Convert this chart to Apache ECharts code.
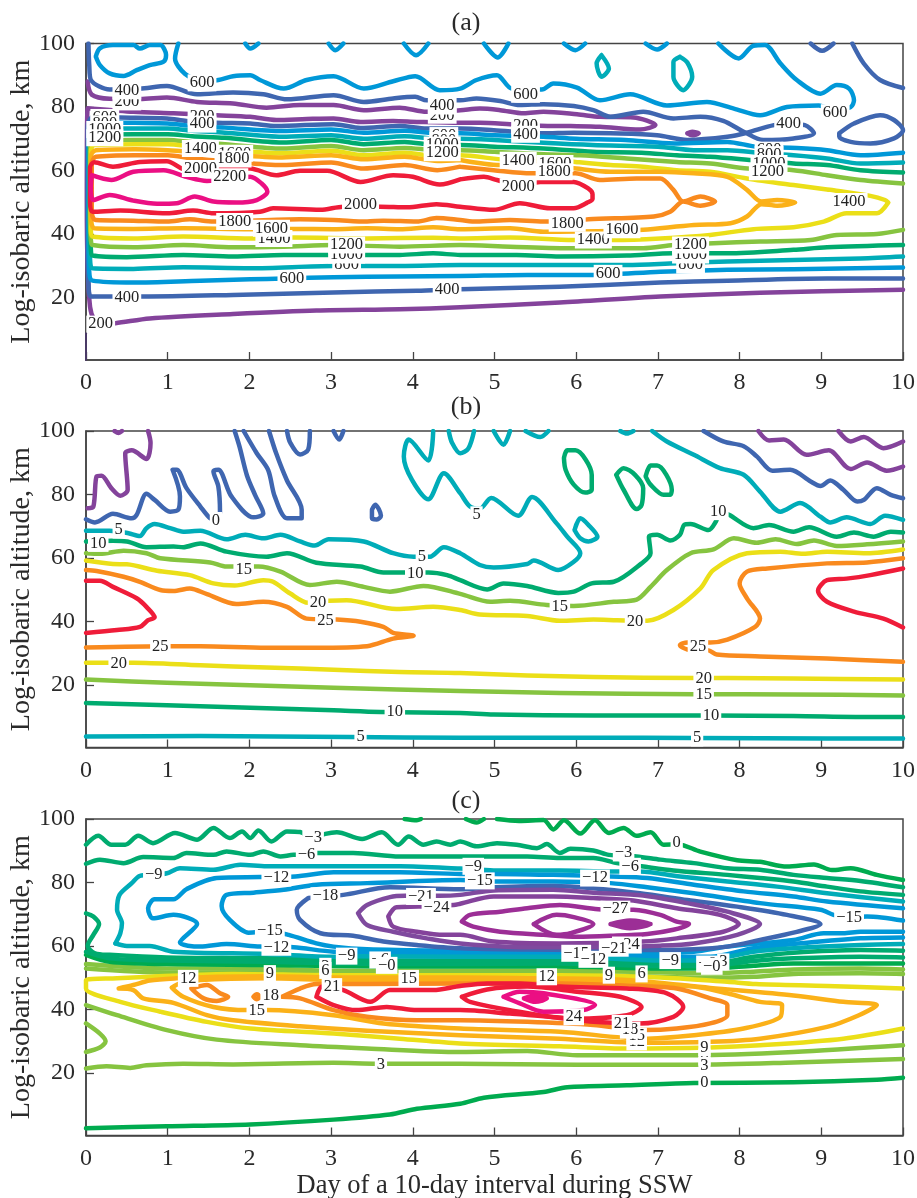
<!DOCTYPE html>
<html><head><meta charset="utf-8">
<style>html,body{margin:0;padding:0;background:#fff}#c{width:917px;height:1198px}</style>
<script src="https://cdn.jsdelivr.net/npm/echarts@6/dist/echarts.min.js"></script>
</head><body><div id="c"></div>
<script>
const dayTicks=[0,1,2,3,4,5,6,7,8,9,10];
const altTicks=[20,40,60,80,100];
const panelTitles=['(a)','(b)','(c)'];
const yName='Log-isobaric altitude, km';
const xName='Day of a 10-day interval during SSW';

// Panel (a)
const a200=[[.02,88],[.07,83.9],[.29,82.6],[.66,82.5],[.99,83],[1.36,81.6],[1.8,81.1],[2.21,79.8],[2.62,80.6],[3.03,80.6],[3.4,79],[3.84,79.8],[4.17,78.5],[4.58,79],[4.82,79.5],[5.07,79],[5.36,78],[5.6,78.5],[6.01,77.7],[6.29,76.9],[6.7,76.7],[6.97,74.3],[6.78,72.9],[6.29,73.8],[5.93,74],[5.56,74.1],[5.19,74.6],[4.82,75],[4.58,75],[4.05,75.3],[3.76,75.6],[3.36,75.3],[3.03,76.4],[2.7,76.2],[2.33,75.9],[2.01,76.9],[1.6,77.4],[1.07,78],[.58,78.5],[.02,79.6],[.01,50],[.02,30],[.05,17],[.1,13],[.18,11.7],[.36,11.9],[.78,13.4],[1.8,14.8],[2.82,15.9],[3.84,16.3],[4.58,16.9],[5.8,18.4],[7.03,20.3],[8.25,21.5],[10,22.4]];
const a200Wall=[[0,8.7],[0,.3]];
const a200Dot=[[7.36,71.7],[7.42,72.2],[7.5,71.7],[7.42,71.1],[7.36,71.7]];
const a400=[[.03,100],[.04,93],[.06,88.5],[.29,85.5],[.66,85.8],[.99,86.6],[1.36,84],[1.8,84.6],[2.17,84],[2.46,82.4],[3.03,83.7],[3.4,81.6],[3.76,82.7],[4.03,83.2],[4.17,82.1],[4.58,82.1],[4.78,82.7],[5.07,81.9],[5.31,80.6],[5.6,80.9],[5.97,80.3],[6.21,79],[6.42,76.9],[6.82,78.5],[7.19,76.4],[7.52,76.9],[7.8,75.6],[8.05,72.2],[8.29,69.6],[8.66,70.1],[8.91,71.7],[8.8,74.3],[8.6,74.6],[8.42,74.3],[8.09,71.9],[7.85,70.6],[7.36,69.6],[6.99,71.1],[6.42,71.7],[5.97,71.9],[5.58,71.7],[4.99,72.7],[4.58,73.2],[4.17,73.2],[3.84,74],[3.36,73.4],[3.03,74.6],[2.33,74],[2.01,74.8],[1.6,75],[1.23,75.6],[.99,76.4],[.42,76.7],[.09,76.9],[.02,74],[.02,40],[.03,25],[.06,20.3],[.7,20.3],[1.8,20.8],[3.03,21.6],[4.05,22.1],[4.58,22.6],[5.8,23.4],[7.03,24.7],[7.85,25.3],[9.07,26],[10,26]];
const a400Top=[[8.87,100],[9.01,97.7],[9.15,100]];
const a400Right=[[9.38,100],[9.52,93.7],[9.72,88.5],[10,86]];
const a400Loop=[[9.22,71.7],[9.4,74.8],[9.72,77.4],[9.89,75.9],[10,72.7],[9.89,70.1],[9.6,68.5],[9.36,69],[9.22,70.6],[9.22,71.7]];
const a600Top=[[1.13,100],[1.09,95.3],[1.21,90.5],[1.42,88.2],[1.62,88.5],[1.8,89.7],[2.01,90],[2.13,88.5],[2.42,85.8],[2.7,88.5],[3.03,89.7],[3.4,85.8],[3.76,88.1],[4.03,89.7],[4.33,85.3],[4.58,85.8],[4.78,88.5],[5.03,90],[5.21,85.8],[5.58,85.5],[5.72,87.4],[6.01,86.1],[6.29,82.1],[6.66,84],[7.11,80.5],[7.6,81.6],[7.93,79.5],[8.25,77.4],[8.58,80],[8.97,80.5],[9.17,79],[9.36,80],[9.4,82.1],[9.34,85.8],[9.19,86.9],[8.99,84.2],[8.7,88.5],[8.5,93.7],[8.31,99.5],[8.17,99.3],[7.99,95.3],[7.74,100]];
const a600Loop=[[.12,95.9],[.17,98.5],[.33,99.5],[.58,99.5],[.66,98.4],[.78,99.5],[.91,99.5],[.98,96.4],[.95,94.3],[.78,93.2],[.62,91.6],[.46,89.8],[.29,90.6],[.17,93.2],[.12,95.9]];
const a600Dip1=[[1.95,100],[2.01,98.4],[2.11,100]];
const a600Dip2=[[2.97,100],[3.05,97.9],[3.15,100]];
const a600Dip3=[[3.89,100],[4.04,96.3],[4.19,100]];
const a600Dip4=[[4.87,100],[5.04,95.6],[5.17,100]];
const a600Dip5=[[5.85,100],[5.99,97.9],[6.11,100]];
const a600Dip6=[[6.85,100],[6.99,98.1],[7.11,100]];
const a600=[[10,65.6],[9.48,64.8],[9.07,66.4],[8.7,67.1],[8.2,67.5],[7.85,69],[7.2,68.5],[6.6,69.6],[6,70],[5.6,70.6],[5,71.1],[4.58,71.7],[4.3,71.7],[3.9,72.5],[3.4,71.9],[3,72.9],[2.4,72.4],[1.7,73.5],[1.3,74],[1,74.8],[.6,75],[.1,75.2],[.03,73],[.03,45],[.04,28],[.08,25.3],[.58,24.7],[1.4,25.3],[2.01,25.7],[2.42,26],[3.03,26.4],[3.84,26.6],[4.58,26.8],[5.4,27.1],[6.21,27.1],[7.03,28.1],[7.85,28.7],[8.66,28.9],[10,29.4]];
const a800=[[10,62.5],[9.48,62.2],[9.07,63.8],[8.66,64.8],[8.3,65.4],[7.85,66.4],[7.44,66.4],[7,67.5],[6.2,68],[5.6,68.7],[5,69.6],[4.58,70],[4.3,70],[3.9,70.8],[3.4,70],[3,71.1],[2.4,70.6],[1.7,71.9],[1.3,72.5],[1,73.2],[.6,73.2],[.1,73.2],[.04,71],[.04,45],[.05,32],[.08,29.2],[.58,29],[1.19,29.5],[2.01,29.2],[3.03,29.9],[3.84,29.9],[4.58,30.2],[5.27,30.2],[6.62,30.2],[7.23,30.8],[7.85,31.3],[8.66,31.8],[9.48,32.3],[10,32.9]];
const a1000=[[10,59.4],[9.48,60.1],[9.07,61.7],[8.66,62.2],[8.14,63.3],[7.64,64.3],[7.23,64.8],[6.8,65.6],[6.2,65.9],[5.6,66.9],[5,67.5],[4.58,68],[4.3,68],[3.9,69],[3.4,68.3],[3,69.6],[2.4,68.8],[1.7,70.3],[1.3,70.8],[1,71.4],[.6,71.4],[.1,71.3],[.05,69],[.05,45],[.06,35],[.08,33.2],[.5,32.7],[1.19,33.4],[1.8,32.9],[2.42,33.4],[3.03,33.4],[3.84,33.4],[4.25,33.9],[4.58,33.4],[5.27,33.4],[5.8,32.9],[6.62,33.2],[7.19,33.9],[7.85,33.9],[8.66,35],[9.07,35.8],[10,36.5]];
const a1200=[[10,55.9],[9.48,57],[9.07,58.5],[8.66,60.1],[8.1,60.6],[7.64,62.2],[7.23,62.7],[6.62,63.8],[6.05,64.8],[5.6,65.1],[5,65.9],[4.58,66.4],[4.3,66.4],[3.9,67.1],[3.4,66.4],[3,67.7],[2.4,66.9],[1.7,68.3],[1.3,68.9],[1,69.6],[.6,69.6],[.1,69.5],[.05,67.5],[.05,45],[.06,38],[.08,36.5],[.58,35.8],[1.19,36.5],[1.8,35.8],[2.42,36],[3.03,36.5],[3.84,36],[4.58,36.5],[5.19,36],[5.97,35.5],[6.82,35.5],[7.19,36.5],[7.68,37.1],[8.25,37.6],[8.87,38.1],[9.19,39.7],[9.68,40],[10,41.3]];
const a1400=[[9.82,49.9],[9.78,50.7],[9.6,52],[9.15,53.8],[9.07,54],[8.66,55.4],[8.09,57.5],[7.64,59.6],[7.23,60.1],[6.82,61.2],[6.42,61.7],[5.99,62.7],[5.58,63.8],[5.2,63.3],[4.58,64.8],[4.3,64.5],[3.9,65.6],[3.4,64.8],[3,66.2],[2.4,65.4],[1.7,66.7],[1.3,67.5],[1,68.3],[.6,68.3],[.1,68],[.06,66],[.06,45],[.06,41],[.08,39.2],[.58,38.6],[1.19,39.2],[2.01,38.6],[2.54,38.9],[3.44,38.6],[4.25,38.8],[4.58,38.6],[5.19,38.9],[5.97,38.1],[6.46,38.1],[7.03,38.6],[7.64,39.7],[8.17,41.5],[8.66,42.1],[9.03,43.9],[9.31,46.5],[9.68,46.5],[9.82,49.9]];
const a1600=[[4.58,63.3],[4.3,63],[3.9,64.3],[3.4,63.5],[3,64.8],[2.4,64.1],[1.7,65.1],[1.3,65.9],[1,66.4],[.6,66.7],[.12,66.4],[.06,64.5],[.06,46],[.07,43],[.1,41.8],[.58,41.6],[1.19,41.8],[2.01,41.5],[2.54,41.6],[3.03,41.5],[3.44,41.8],[3.84,41.5],[4.25,42.1],[4.58,41.5],[5.19,41.8],[5.6,40.7],[6.55,41],[6.82,41.3],[7.44,42.8],[7.89,43.4],[8.09,45.5],[8.27,49.4],[8.46,48.9],[8.68,49.9],[8.46,50.7],[8.27,50.2],[8.09,53.9],[7.85,58],[7.44,59.1],[7.03,59.6],[6.42,59.6],[6,60.6],[5.5,62.2],[5.07,61.7],[4.58,63.3]];
const a1800=[[4.58,61.2],[4.3,60.1],[3.9,61.7],[3.4,60.6],[3,62.5],[2.4,61.7],[1.7,63],[1.3,63.8],[1,64.8],[.6,64.8],[.12,64.3],[.07,62],[.07,48],[.08,45.5],[.12,44.4],[.58,44.2],[.99,43.9],[1.27,44.6],[1.56,43.9],[2.62,44.6],[3.03,44.4],[3.44,43.9],[3.64,44.2],[4.05,43.9],[4.29,45],[4.58,44.4],[4.78,43.9],[5.19,44.4],[5.6,43.9],[5.9,43.9],[6.15,44.6],[6.95,45.5],[7.15,47],[7.31,50.2],[7.52,48.9],[7.7,50.2],[7.52,51.8],[7.31,50.2],[7.19,53.9],[7.03,57.5],[6.74,57.5],[6.29,57],[5.99,59.1],[5.45,59.1],[4.99,60.1],[4.58,61.2]];
const a2000=[[4.58,57.2],[4.33,55.6],[4,58],[3.76,58.5],[3.36,56.4],[2.95,59.9],[2.62,59.9],[2.33,58.5],[2.01,60.6],[1.6,60.8],[1.23,60.1],[.99,62.9],[.66,62.7],[.33,61.2],[.1,62.6],[.05,61],[.05,50],[.08,47],[.42,47.4],[.99,46.5],[1.31,47.4],[1.56,46.5],[2.13,47],[2.29,48.1],[2.87,47.6],[3.15,48.6],[3.6,48.6],[3.93,48.4],[4.29,49.4],[4.58,48.6],[4.99,47.6],[5.31,49.7],[5.68,48.1],[5.97,48.1],[6.13,49.8],[6.2,51],[6.2,52.5],[6.15,54.3],[5.97,56.4],[5.56,56.4],[5.29,55.4],[5.03,57],[4.87,58],[4.58,57.2]];
const a2200=[[.07,58.5],[.31,57],[.58,59.6],[.95,60.1],[1.23,58],[1.48,56.7],[2.01,58],[2.15,55.9],[2.22,53.3],[2.09,50.7],[1.84,49.9],[1.56,50.2],[1.33,51.8],[1.11,49.7],[.87,49.5],[.58,50.5],[.29,52.3],[.09,50.7],[.06,54.9],[.07,58.5]];
const a800Isle1=[[6.31,96.3],[6.4,92.1],[6.31,89.5],[6.25,93.7],[6.31,96.3]];
const a800Isle2=[[7.27,95.8],[7.36,94],[7.42,89.5],[7.31,85.3],[7.19,89.5],[7.19,94.2],[7.27,95.8]];
const labelsA=[[.5,81.6,'200'],[1.42,76.9,'200'],[4.36,77.4,'200'],[5.38,74,'200'],[.18,11.6,'200'],
[.5,85.1,'400'],[1.42,74.6,'400'],[4.36,80.3,'400'],[5.38,71.4,'400'],[8.6,74.6,'400'],[.5,20,'400'],[4.42,22.6,'400'],
[1.42,87.6,'600'],[.23,76.7,'600'],[5.38,84,'600'],[4.38,71,'600'],[9.17,78.2,'600'],[8.36,66.4,'600'],[2.52,26,'600'],[6.39,27.6,'600'],
[.23,74.7,'800'],[4.38,69.5,'800'],[8.36,65,'800'],[3.19,30.2,'800'],[7.4,30.2,'800'],
[.23,72.9,'1000'],[4.36,68,'1000'],[8.36,62.2,'1000'],[3.19,33.4,'1000'],[7.4,33.4,'1000'],
[.23,70.3,'1200'],[4.36,65.6,'1200'],[8.34,59.6,'1200'],[3.19,36.5,'1200'],[7.4,36.5,'1200'],
[1.4,66.9,'1400'],[5.29,63.2,'1400'],[2.3,38.6,'1400'],[6.21,38.1,'1400'],[9.34,50.2,'1400'],
[1.82,65.4,'1600'],[5.74,62.2,'1600'],[2.27,41.8,'1600'],[6.56,41.3,'1600'],
[1.8,63.6,'1800'],[5.73,59.6,'1800'],[1.82,43.9,'1800'],[5.89,43.4,'1800'],
[1.4,60.6,'2000'],[5.29,54.9,'2000'],[3.36,49.1,'2000'],
[1.76,58,'2200']];

// Panel (b)
const bN5L=[[.02,75.7],[.09,76.2],[.13,85.7],[.19,85.9],[.31,82],[.42,79.6],[.51,81.5],[.48,93],[.56,93.9],[.74,91.2],[.79,96.2],[.76,100]];
const bN5Dot=[[.35,100],[.4,99.4],[.44,100]];
const bN5R1=[[8.23,100],[8.36,97],[8.54,97.3],[8.82,92.5],[9.09,93.9],[9.36,88],[9.56,90.1],[9.8,87.5],[10,88.8]];
const bN5R2=[[9.21,100],[9.36,96.7],[9.52,98.1],[9.76,94.6],[10,96.7]];
const b0A=[[0,72.2],[.11,71.2],[.33,73.9],[.56,72.5],[.62,73.6],[.74,80.2],[.84,78.3],[1.03,74.6],[1.13,75.2],[1.15,79.4],[1.06,87.8],[1.11,87.8],[1.23,82],[1.4,76.2],[1.52,72.5],[1.6,71.9],[1.64,74.6],[1.62,82.5],[1.56,87.3],[1.62,87.8],[1.78,79.4],[2.05,72.8],[2.17,74],[2.07,79.8],[1.97,86],[1.88,95],[1.82,100]];
const b0B=[[1.93,100],[2.09,93],[2.23,87.7],[2.31,79.4],[2.46,72.5],[2.64,72.5],[2.64,75.2],[2.46,84.4],[2.33,92.8],[2.24,100]];
const b0C=[[2.46,100],[2.5,96.3],[2.62,92.6],[2.72,94.2],[2.74,100]];
const b0D=[[3.03,100],[3.1,97.3],[3.15,100]];
const b0Isle=[[3.5,75.2],[3.54,76.8],[3.61,73.3],[3.56,72.1],[3.5,72.6],[3.5,75.2]];
const b0R=[[7.56,100],[7.8,96.7],[8.05,95.2],[8.21,92],[8.4,87.5],[8.62,87.8],[8.87,84.1],[8.99,82.7],[9.11,84.4],[9.27,81.5],[9.44,77.8],[9.52,78.3],[9.68,82],[9.85,79.9],[10,78.8]];
const b5=[[0,68.6],[.29,68.6],[.52,67.8],[.66,66.9],[.74,69.4],[.84,70.7],[1.03,69.4],[1.19,68.3],[1.4,68.6],[1.72,65.9],[1.95,67.3],[2.17,66.2],[2.38,67.3],[2.62,65.2],[2.8,63.9],[2.97,65.9],[3.4,65.2],[3.76,61.5],[4.01,60.4],[4.21,60.4],[4.38,63.4],[4.58,61.5],[4.82,57.8],[4.99,57],[5.4,58.1],[5.48,59.2],[5.78,56.2],[5.97,58.8],[6.05,61.5],[5.89,66.7],[5.76,70.9],[5.46,79.2],[5.29,73.3],[4.96,78.9],[4.82,75.5],[4.7,76.2],[4.58,80.4],[4.38,86.7],[4.19,78.5],[3.99,84.6],[3.89,92],[3.95,97.3],[4.19,90.7],[4.25,100]];
const b5B=[[4.44,100],[4.48,96.3],[4.58,93],[4.68,94.5],[4.75,100]];
const b5C=[[4.99,100],[5.11,95.7],[5.19,100]];
const b5D=[[5.38,100],[5.56,98.1],[5.66,100]];
const b5E=[[6.54,100],[6.62,99.2],[6.7,100]];
const b5F=[[6.93,100],[7.11,96.7],[7.44,92.5],[7.76,88.3],[8.05,86.2],[8.25,80.9],[8.5,74.6],[8.74,77.3],[8.99,73],[9.11,71.2],[9.31,72.8],[9.6,70.7],[9.78,73.3],[10,72]];
const b5Isle=[[5.98,68.8],[6.05,72.5],[6.15,70.4],[6.26,66.7],[6.15,65.2],[6.05,66.2],[5.98,68.8]];
const b10=[[0,65.2],[.33,65.4],[.5,65.2],[.74,63.4],[1.07,63.6],[1.19,63.4],[1.4,64.6],[1.72,62],[2.21,60.4],[2.46,61.5],[2.82,58.5],[3.36,57.3],[3.64,55.4],[3.91,55.4],[4.19,55.4],[4.42,54.6],[4.58,53],[4.91,50.1],[5.11,52],[5.4,51.2],[5.78,49],[5.97,49.4],[6.19,52],[6.46,52.5],[6.8,58.3],[6.91,61.5],[6.89,66.7],[6.99,67.3],[7.15,65.5],[7.27,67.3],[7.32,70.4],[7.4,70.7],[7.62,68.8],[7.71,71.5],[7.76,74.6],[7.87,73.6],[8.17,69.4],[8.36,70.4],[8.66,68.3],[8.85,69.7],[9.19,66.7],[9.4,68],[9.64,66.7],[9.85,68.3],[10,68]];
const b10Isle1=[[5.85,91.5],[5.89,93.9],[5.99,93.9],[6.19,86.2],[6.19,81.5],[6.11,80.6],[5.97,83.1],[5.87,87.8],[5.85,91.5]];
const b10Isle2=[[6.49,86.2],[6.58,88.3],[6.72,86.2],[6.82,82],[6.8,76.7],[6.74,75.4],[6.58,81.5],[6.49,86.2]];
const b10Isle3=[[6.85,85.7],[6.91,89.1],[6.99,89.1],[7.17,81.5],[7.15,79.9],[7.07,79.9],[6.91,83.1],[6.85,85.7]];
const b15=[[0,61.5],[.17,61.3],[.46,62.3],[.74,61.5],[.91,59.9],[1.52,58.6],[1.72,57.3],[2.11,57.3],[2.38,55.7],[2.74,51.5],[3.07,52.5],[3.4,50.9],[3.72,49.4],[4.13,51.2],[4.58,48.7],[4.95,46.2],[5.19,46.5],[5.64,45.2],[5.97,44.9],[6.46,46.2],[6.74,46.9],[6.91,50.9],[7.11,56.2],[7.4,61.5],[7.68,62.7],[7.93,66.2],[8.21,64.8],[8.44,65.9],[8.7,64.4],[8.91,65.5],[9.19,63.8],[9.56,64.3],[10,65.2]];
const b20=[[0,59.2],[.33,58.1],[.5,58],[.87,56],[1.27,54.6],[1.56,52],[1.82,51.3],[2.17,53],[2.29,52.5],[2.5,48.8],[2.72,45.9],[2.97,46.5],[3.19,46.7],[3.8,43.9],[4.25,44.6],[4.58,43.6],[4.82,42.2],[5.4,41.7],[5.8,40.2],[6.21,40.6],[6.5,40.4],[6.87,40.2],[7.19,43.6],[7.52,50.4],[7.68,56.2],[8.09,61.5],[8.5,62],[8.78,61.3],[9.07,62],[9.56,61.5],[10,62.7]];
const b25=[[0,56.2],[.13,55.9],[.46,54.1],[.66,52.5],[.91,49.9],[1.07,49.6],[1.27,50.4],[1.48,48.6],[1.84,45.5],[2.17,46.2],[2.46,44.6],[2.7,40.9],[3.07,40.6],[3.36,39.9],[3.64,38.3],[3.76,36.4],[4.01,35.5],[3.76,34.6],[3.44,32.2],[2.82,31.7],[2.21,31.7],[1.4,32.2],[1.03,32.2],[0,31.8]];
const b25R=[[10,59.9],[9.56,58.6],[9.07,58.3],[8.34,56.7],[8.09,55.7],[8,52],[8.09,47.3],[8.25,40.9],[8.19,38.3],[7.85,34.3],[7.64,33.4],[7.36,33.4],[7.27,32.5],[7.36,31.2],[7.62,30.9],[7.72,29.6],[8.25,29],[9.07,28.3],[10,27.3]];
const b30=[[0,36.4],[.38,37.3],[.66,38.3],[.76,40.4],[.84,41.3],[.74,44.6],[.62,47.3],[.33,50.9],[.17,52.8],[0,52.8]];
const b30R=[[10,56.7],[9.6,54.6],[9.31,53.5],[9.07,53],[8.96,49.7],[9.07,46.2],[9.4,43.1],[9.76,40.9],[10,38.1]];
const b20Low=[[0,27],[.58,27],[1.4,26.2],[2.21,25.5],[3.03,24.8],[3.84,24.1],[4.58,23.8],[5.4,23],[6.21,22.5],[7.44,22.2],[7.85,22.2],[8.66,22],[10,21.7]];
const b15Low=[[0,21.7],[.99,20.7],[2.01,19.9],[3.03,19.1],[4.58,18.1],[5.8,17.5],[7.44,17.1],[8.66,17],[10,16.7]];
const b10Low=[[0,14.3],[.99,13.6],[2.01,12.8],[3.03,12],[3.6,11.5],[4.58,11.2],[4.99,10.7],[6.21,10.4],[7.64,10.4],[8.66,10.2],[9.68,9.9],[10,9.9]];
const b5Low=[[0,3.8],[1.4,3.9],[3.23,3.6],[4.58,3.4],[6.21,3.4],[7.44,3.3],[9.07,3.1],[10,3.1]];
const labelsB=[[1.59,71.8,'0'],[.4,68.8,'5'],[.15,64.6,'10'],[1.93,56.4,'15'],[2.84,45.9,'20'],[2.93,40.4,'25'],[.91,32.2,'25'],[.4,26.7,'20'],[4.11,60.4,'5'],[4.03,55.2,'10'],[3.78,11.5,'10'],[3.36,3.8,'5'],[4.78,73.6,'5'],[7.74,74.6,'10'],[5.8,44.6,'15'],[6.72,39.9,'20'],[7.49,32,'25'],[7.56,22,'20'],[7.56,17,'15'],[7.65,10.4,'10'],[7.48,3.3,'5']];

// Panel (c)
const c0Top=[[3.9,100],[4.05,99.6],[4.1,100]];
const c0Top2=[[4.65,100],[4.78,98.9],[4.87,100]];
const c0=[[5.03,100],[5.3,99.4],[5.6,99.7],[5.72,96.7],[5.85,99.6],[6.05,95.4],[6.23,99.6],[6.4,95.6],[6.58,97.2],[6.74,94.7],[6.91,95.8],[7.07,91.9],[7.25,92],[7.52,89.7],[7.97,87],[8.25,86.5],[8.58,85],[8.91,85.7],[9.13,83.9],[9.36,84.5],[9.68,82.4],[10,80.8]];
const cN3=[[0,91.9],[.15,94.7],[.31,91.9],[.48,91.9],[.64,94.7],[.82,92.4],[1.09,95.6],[1.36,93.5],[1.56,97.2],[1.76,94],[1.91,96.1],[2.01,94],[2.11,96.4],[2.27,92.9],[2.46,96.1],[2.62,95.9],[2.78,94],[2.93,95.3],[3.07,95.8],[3.38,93.7],[3.62,95.8],[3.82,91.9],[3.95,94.5],[4.13,91.9],[4.29,92.9],[4.46,91.9],[4.58,92.9],[4.78,91.4],[5.03,92.4],[5.27,91.9],[5.52,90.8],[5.64,92.1],[5.8,89.3],[5.93,90.6],[6.21,90.1],[6.4,88.7],[6.74,88.2],[7.03,87.2],[7.44,86.1],[7.85,84.5],[8.25,84],[8.66,82.4],[9.07,81.4],[9.48,80.5],[10,78.5]];
const cN6=[[0,85.9],[.17,87.2],[.46,86.1],[.7,88],[1.07,87.7],[1.23,89.3],[1.56,88.7],[1.72,89.8],[2.01,88.7],[2.17,89.8],[2.38,88.2],[2.54,88.7],[2.7,88.7],[2.82,89.3],[3.27,89.3],[3.84,88.2],[4.58,88.2],[4.99,88.2],[5.4,88.2],[5.8,87.7],[6.21,87.7],[6.5,86.1],[6.8,85.1],[7.19,83.8],[7.85,82.4],[8.25,81.4],[8.66,80.3],[9.07,78.7],[9.48,77.2],[10,76.1]];
const cN6Low=[[0,70.3],[.09,69.3],[.16,66.9],[.09,63.5],[.02,60],[.11,57.7],[.29,57.2],[.99,56.4],[2.21,56.1],[3.03,55.6],[4.58,55.4],[5.8,55.6],[7.03,54.5],[7.64,54.5],[8.17,56.6],[8.66,57.9],[9.48,58.7],[10,58.5]];
const cN3Low=[[0,58.2],[.29,56.1],[.99,55.4],[2.21,55],[3.03,54.5],[4.58,54.3],[5.8,54.5],[7.03,53.7],[7.64,53.7],[8.17,55.3],[8.66,56.1],[9.48,56.6],[10,56.4]];
const c0Band=[[0,57.2],[.29,55],[.99,54.3],[2.21,54],[3.03,53.7],[4.58,53.5],[5.8,53.5],[7.03,52.9],[7.64,52.9],[8.17,53.8],[8.66,54.5],[9.48,54.5],[10,54.5]];
const c3Band=[[0,54.3],[.99,52.9],[2.21,52.9],[3.03,52.2],[4.58,52.2],[5.8,52.2],[7.03,51.7],[7.64,51.4],[8.17,51.9],[8.66,52.6],[9.48,52.9],[10,52.6]];
const c6Band=[[0,52.9],[.99,51.6],[2.21,51.7],[3.03,50.9],[4.58,50.9],[5.8,50.9],[7.03,50.3],[7.64,50],[8.17,50.3],[8.66,51.2],[9.48,51.4],[10,51.2]];
const cN9=[[.36,60.8],[.42,64],[.44,67.2],[.38,71.4],[.41,76.1],[.56,79.8],[.66,82.1],[.83,82.4],[.99,82.9],[1.15,84.5],[1.56,84],[1.89,85.6],[2.21,85.1],[2.54,85.1],[3.03,85.1],[3.84,85.1],[4.58,84.4],[4.99,83.8],[5.8,83.8],[6.42,83.5],[6.78,83.5],[7.27,81.9],[7.85,80.3],[8.46,78.7],[9.07,76.6],[10,74]];
const cN9Low=[[.36,60.8],[.5,60],[.78,60],[1.07,58.2],[2.21,57.5],[3.03,56.6],[3.19,56.8],[4.58,56.6],[5.8,56.6],[7.15,55.4],[7.64,55.6],[8.17,58.2],[8.66,59.3],[9.48,60.3],[10,60.6]];
const cN12=[[10,71.9],[9.07,74],[8.66,75.6],[8.05,77.2],[7.44,79.3],[6.87,81.4],[6.42,81.9],[5.72,82.4],[4.99,82.7],[4.58,82.7],[3.84,83.2],[3.03,83.2],[2.56,81.9],[2.13,81.7],[1.6,81.4],[1.23,77.9],[1.07,74.7],[.84,74.7],[.76,71.9],[.82,68.7],[1.07,69.8],[1.36,66.9],[1.15,61.1],[1.4,59.8],[1.72,60.6],[2.13,59.8],[2.54,59.6],[3.03,58.2],[4.58,57.5],[5.8,57.2],[6.62,56.6],[7.64,56.6],[8.17,59.3],[8.66,60.6],[9.48,62.4],[10,62.7]];
const cN15=[[10,68],[9.56,69.3],[9.33,69],[9.15,69.8],[8.99,71.4],[8.25,73.5],[7.44,76.6],[6.87,78.5],[6.42,79.8],[5.72,80.3],[4.99,80.3],[4.58,80.8],[3.44,79.8],[2.82,79.3],[2.42,77.7],[2.05,76.8],[1.72,76.1],[1.66,72.6],[1.76,68.2],[1.99,64.2],[2.25,64.6],[2.48,63.5],[2.82,60.8],[3.03,59.8],[3.44,59],[4.58,58.5],[5.8,58.2],[6.62,57.7],[7.44,58.2],[7.85,59.8],[8.66,61.9],[9.03,64],[9.27,64],[9.48,64.5],[10,64.5]];
const cN18=[[2.72,75.1],[3.15,76.1],[3.72,78.5],[4.58,77.9],[4.99,78.5],[5.72,78.9],[6.21,78.2],[6.78,76.6],[7.36,74.5],[7.97,72.4],[8.58,69.8],[8.99,66.9],[8.66,64.2],[8.25,61.9],[7.85,59.8],[7.44,59],[6.62,58.7],[5.4,58.9],[4.58,59.3],[4.05,60.3],[3.64,61.4],[3.27,63.2],[2.87,64],[2.62,68.2],[2.58,71.4],[2.72,75.1]];
const cN21=[[3.33,70.3],[3.44,72.9],[3.72,75.4],[3.91,75.8],[4.33,75.8],[4.58,76.1],[4.99,77.5],[5.72,77.7],[6.21,76.8],[6.82,75.9],[7.36,73.5],[7.85,70.8],[8.25,66.9],[7.97,63.5],[7.44,60.8],[7.03,60.1],[6.21,59.6],[5.4,59.6],[4.58,60.8],[4.17,62.4],[3.76,64.5],[3.44,66.6],[3.33,70.3]];
const cN24=[[3.7,69.3],[3.8,72.2],[4.07,72.4],[4.5,72.9],[4.58,73.3],[4.99,75.6],[5.72,75.6],[6.21,75.1],[6.7,74.3],[7.23,71.9],[7.76,69.8],[7.99,66.9],[7.8,64.5],[7.23,62.4],[6.82,61.4],[5.8,60.8],[4.99,61.4],[4.58,63.5],[4.38,63.5],[4.05,64.5],[3.76,66.1],[3.7,69.3]];
const cN27=[[4.6,67.7],[4.7,69.8],[5.07,70.8],[5.4,71.9],[5.8,72.9],[6.27,71.6],[6.7,71.4],[7.03,69.8],[7.23,67.7],[7.38,66.9],[7.19,65.1],[6.87,63.8],[6.42,63.2],[6.01,62.9],[5.6,63.5],[5.07,64.5],[4.74,66.1],[4.6,67.7]];
const cN30A=[[5.48,66.9],[5.76,69.8],[5.97,69.1],[6.21,66.9],[5.93,64],[5.76,63.5],[5.48,66.9]];
const cN30B=[[6.42,66.9],[6.66,68],[6.91,66.9],[6.66,65.6],[6.42,66.9],[6.91,66.9]];
const c9=[[10,46.6],[9.07,47.4],[8.2,48],[7.85,48.7],[7.03,50.1],[5.8,50.8],[4.58,50.8],[3.03,50.8],[1.8,51.2],[.78,50.3],[.38,49.8],[0,49.3],[0,46.6],[.42,42.4],[.91,39.3],[1.48,36.1],[2.01,34],[3.03,32.4],[3.84,30.8],[4.58,29.3],[5.8,28.4],[6.62,27.7],[7.64,28],[8.25,28.7],[9.27,30.8],[10,34]];
const c12=[[.4,46.6],[.58,47.7],[.78,49.1],[1.11,49.8],[1.6,50.3],[2.21,50.5],[3.03,50.1],[4.58,50.1],[5.64,49.8],[6.62,49.3],[7.64,46.8],[8.66,44.4],[9.27,42.4],[9.68,41.4],[9.46,38.2],[9.07,34.5],[8.25,30.8],[7.64,29.8],[6.82,29.5],[5.8,30.8],[4.58,31.9],[3.44,33.3],[2.62,34.7],[1.8,36.6],[1.48,38.2],[1.07,42.1],[.7,43.5],[.58,46.1],[.4,46.6]];
const c15=[[1.05,46.9],[1.15,48.2],[1.4,49.3],[2.21,49.8],[3.03,49.3],[4.58,49.1],[5.8,49.1],[6.62,48.2],[7.44,47.2],[7.85,45.1],[8.25,42.4],[8.52,41.4],[8.5,37.7],[8.05,34],[7.44,31.9],[6.82,30.8],[5.8,33],[4.58,34],[3.64,35.6],[3.03,38.2],[2.21,39.8],[1.97,39.8],[1.56,40.8],[1.19,44],[1.05,46.9]];
const c18A=[[1.29,46.6],[1.48,47.7],[1.64,45.1],[1.74,44],[1.6,42.7],[1.44,43.5],[1.29,46.6]];
const c18B=[[2.05,44],[2.09,44.8],[2.13,44],[2.09,43.2],[2.05,44]];
const c18=[[2.4,44],[2.62,46.6],[2.82,48],[3.44,48],[4.58,48.2],[5.8,48.2],[6.62,47.5],[7.23,46.6],[7.64,43.5],[7.85,41.4],[7.85,38.2],[7.64,35.6],[7.23,34],[6.82,33.5],[6.21,35.1],[5.4,36.1],[4.58,36.6],[4.05,36.6],[3.44,37.7],[3.03,39.8],[2.62,43.5],[2.4,44]];
const c21=[[2.82,44],[2.89,47.2],[3.15,46.1],[3.48,42.4],[3.72,46.1],[4.25,46.1],[4.58,47.4],[4.91,48.2],[5.31,48.2],[5.8,47.2],[6.62,46.6],[7.11,45.1],[7.31,40.8],[7.19,37.7],[6.78,35.6],[6.21,36.1],[5.8,37.4],[5.19,38.7],[4.58,39.8],[4.05,39.8],[3.68,40.8],[3.31,39.8],[3.03,41.4],[2.82,44]];
const c21Ring=[[4.6,44],[4.91,46.3],[5.4,47.2],[6.01,45.6],[6.54,44],[6.8,40.8],[6.62,38.2],[5.97,37.1],[5.19,39.8],[4.7,42.4],[4.6,44]];
const c24=[[5.11,44],[5.31,45.6],[5.6,45.1],[6.23,41.4],[6.09,39.8],[5.6,39.3],[5.31,41.9],[5.11,44]];
const c24Blob=[[5.36,43.5],[5.52,44.5],[5.64,43.5],[5.5,42.4],[5.36,43.5],[5.64,43.5]];
const c6=[[0,41.4],[.38,38.2],[.99,33.5],[1.6,30.5],[2.62,28.7],[3.44,27.7],[4.58,26.6],[5.4,26.9],[6.01,25.6],[7.44,25.6],[8.66,26.6],[10,28.7]];
const c3Loop=[[0,35.6],[.17,32.4],[.24,30],[.17,28],[0,26.6]];
const c3=[[0,21.4],[.25,22.1],[.54,21.6],[.74,22.4],[1.19,22.9],[1.8,22.7],[3.03,23.2],[3.56,22.9],[4.58,22.9],[6.01,22.6],[7.44,22.6],[8.66,23.3],[10,24.4]];
const c0Low=[[0,2.6],[.99,3.2],[2.01,3.8],[3.03,5.3],[3.72,6.9],[4.05,8.7],[4.58,10.3],[4.87,12.2],[5.6,14],[5.89,15.5],[6.62,16.1],[7.44,16.8],[8.66,17.1],[9.68,17.9],[10,18.5]];
const labelsC=[[2.78,94,'−3'],[2.7,88.7,'−6'],[.83,82.4,'−9'],[2.33,81.4,'−12'],[2.93,75.8,'−18'],[4.1,75.6,'−21'],[4.29,72.2,'−24'],[2.25,64.8,'−15'],[2.33,59.6,'−12'],[3.19,56.8,'−9'],[3.6,55.6,'−6'],[3.68,53.9,'−0'],[2.93,53.6,'3'],[2.93,52.3,'6'],
[1.25,49.8,'12'],[2.25,51.3,'9'],[3.95,49.8,'15'],[3.01,47.2,'21'],[2.26,44.2,'18'],[2.09,39.6,'15'],[3.61,22.7,'3'],
[4.74,85.1,'−9'],[4.82,80.5,'−15'],[6.23,81.4,'−12'],[6.58,89.3,'−3'],[6.66,85.1,'−6'],[7.23,92.4,'0'],[6.48,71.6,'−27'],[9.34,69,'−15'],[6.62,60.3,'−24'],[6.46,59.3,'−21'],[6,57.7,'−15'],[6.21,55.8,'−12'],[7.15,55.4,'−9'],[7.6,54.3,'−6'],[7.8,55,'3'],[7.66,53.6,'−0'],
[5.64,50.3,'12'],[6.4,50.8,'9'],[6.8,51.2,'6'],[5.97,37.7,'24'],[6.74,29.8,'12'],[6.74,31.6,'15'],[6.66,33.5,'18'],[6.56,35.6,'21'],[7.57,25,'6'],[7.57,22.4,'3'],[7.57,28,'9'],[7.57,16.8,'0']];

const purple='#84439B',blue='#3F66B0',sky='#0098D8',teal='#00ACB8',green='#00AB6F',lime='#86C440',yellow='#EBDF18',amber='#FBB118',orange='#F98A1E',red='#EF1C39',pink='#EB0F83',deep='#9C2E96',viol='#7F4A9E',grass='#00AB4F',wallInk='#4a3a66';

const panelA=[[a200Wall,wallInk,2],[a200,purple],[a200Dot,purple],[a400,blue],[a400Top,blue],[a400Right,blue],[a400Loop,blue],[a600Top,sky],[a600Loop,sky],[a600Dip1,sky],[a600Dip2,sky],[a600Dip3,sky],[a600Dip4,sky],[a600Dip5,sky],[a600Dip6,sky],[a600,sky],[a800,teal],[a800Isle1,teal],[a800Isle2,teal],[a1000,green],[a1200,lime],[a1400,yellow],[a1600,amber],[a1800,orange],[a2000,red],[a2200,pink]];
const panelB=[[bN5L,purple],[bN5Dot,purple],[bN5R1,purple],[bN5R2,purple],[b0A,blue],[b0B,blue],[b0C,blue],[b0D,blue],[b0Isle,blue],[b0R,blue],[b5,teal],[b5B,teal],[b5C,teal],[b5D,teal],[b5E,teal],[b5F,teal],[b5Isle,teal],[b5Low,teal],[b10,green],[b10Isle1,green],[b10Isle2,green],[b10Isle3,green],[b10Low,green],[b15,lime],[b15Low,lime],[b20,yellow],[b20Low,yellow],[b25,orange],[b25R,orange],[b30,red],[b30R,red]];
const panelC=[[c0Top,grass],[c0Top2,grass],[c0,grass],[c0Low,grass],[cN3,green],[cN6,green],[cN9,teal],[cN12,sky],[cN15,sky],[cN18,blue],[cN21,viol],[cN24,purple],[cN27,deep],[cN30A,deep],[cN30B,deep],[c3Loop,lime],[c3,lime],[c6,lime],[c6Band,lime],[c3Band,lime],[c0Band,grass],[cN3Low,green],[cN6Low,green],[cN9Low,teal],[c9,yellow],[c12,amber],[c15,amber],[c18,orange],[c18A,orange],[c18B,orange],[c21,red],[c21Ring,red],[c24,pink],[c24Blob,pink]];

const serif='"Liberation Serif","Times New Roman",serif';
const ink='#2a2a2a', frame='#444';
const tops=[43.5,431,819];
const grids=tops.map(t=>({left:86,right:14,top:t,height:316.5,show:true,backgroundColor:'transparent',borderColor:frame,borderWidth:1.5,outerBoundsMode:'none'}));
const xAxes=tops.map((t,i)=>({type:'value',gridIndex:i,min:0,max:10,interval:1,
  name:i===2?xName:'',nameLocation:'middle',nameGap:37,nameMoveOverlap:false,nameTextStyle:{fontFamily:serif,fontSize:26.5,color:ink},
  axisLine:{onZero:false,lineStyle:{color:frame,width:1.5}},axisTick:{inside:true,length:8,lineStyle:{color:frame,width:1.3}},
  axisLabel:{color:ink,fontFamily:serif,fontSize:24,margin:11,formatter:v=>dayTicks.includes(v)?String(v):''},splitLine:{show:false}}));
const yAxes=tops.map((t,i)=>({type:'value',gridIndex:i,min:0.3,max:100,
  name:yName,nameLocation:'middle',nameGap:50,nameRotate:90,nameMoveOverlap:false,nameTextStyle:{fontFamily:serif,fontSize:28,color:ink},
  axisLine:{onZero:false,lineStyle:{color:frame,width:1.5}},
  axisTick:{inside:true,length:8,customValues:altTicks,lineStyle:{color:frame,width:1.3}},
  axisLabel:{color:ink,fontFamily:serif,fontSize:24,margin:11,customValues:altTicks},splitLine:{show:false}}));
const mkLine=(i,pts,color,w)=>({type:'line',xAxisIndex:i,yAxisIndex:i,data:pts,showSymbol:false,smooth:0.3,silent:true,animation:false,
  lineStyle:{width:w||4.5,color,cap:'round',join:'round'},z:2});
const mkLabels=(i,labels)=>({type:'scatter',xAxisIndex:i,yAxisIndex:i,data:labels,symbolSize:0,silent:true,animation:false,z:5,
  encode:{x:0,y:1},itemStyle:{opacity:1},
  label:{show:true,position:'inside',formatter:p=>p.value[2],fontFamily:serif,fontSize:16.5,lineHeight:15,color:'#222',backgroundColor:'#fff',padding:[1,2]},
  labelLayout:{hideOverlap:false}});
const series=[];
[panelA,panelB,panelC].forEach((p,i)=>p.forEach(([pts,c,w])=>series.push(mkLine(i,pts,c,w))));
[labelsA,labelsB,labelsC].forEach((l,i)=>series.push(mkLabels(i,l)));
const titleTops=[5,389,783];
const chart=echarts.init(document.getElementById('c'),null,{renderer:'canvas',width:917,height:1198});
chart.setOption({animation:false,backgroundColor:'#fff',
  title:panelTitles.map((t,i)=>({text:t,left:461,top:titleTops[i],textAlign:'center',textStyle:{fontFamily:serif,fontSize:26,fontWeight:'normal',color:ink}})),
  grid:grids,xAxis:xAxes,yAxis:yAxes,series});
</script></body></html>
